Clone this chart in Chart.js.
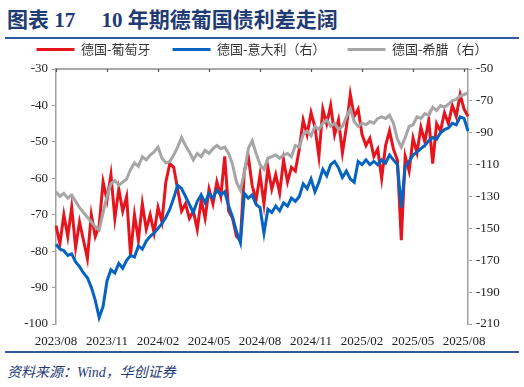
<!DOCTYPE html>
<html>
<head>
<meta charset="utf-8">
<script src="https://cdn.jsdelivr.net/npm/chart.js@4/dist/chart.umd.min.js"></script>
<style>
    html, body { margin: 0; padding: 0; background: #fff; }
    .page { position: relative; width: 524px; height: 387px; overflow: hidden; }
    .title {
        position: absolute; left: 7px; top: 3px;
        font: bold 21px "Liberation Serif", "Noto Sans CJK SC", serif;
        color: #1f3b73; white-space: pre;
    }
    .rule { position: absolute; left: 5px; width: 514px; height: 2px; background: #2f5b9c; }
    .source {
        position: absolute; left: 7px; top: 361px;
        font: italic 14px "Liberation Serif", "Noto Sans CJK SC", serif;
        color: #1f3b73;
    }
    .chart-wrap { position: absolute; left: 0; top: 21px; width: 524px; height: 331px; }
</style>
</head>
<body>
<div class="page">
    <div class="title">图表 17     10 年期德葡国债利差走阔</div>
    <div class="rule" style="top:37px"></div>
    <div class="chart-wrap"><canvas id="spread-chart"></canvas></div>
    <div class="rule" style="top:351px"></div>
    <div class="source">资料来源：Wind，华创证券</div>
</div>

<script>
/* ===== DATA (weekly) ===== */

// x labels shown every 13 weeks
const tickLabels = ['2023/08', '2023/11', '2024/02', '2024/05', '2024/08', '2024/11', '2025/02', '2025/05', '2025/08'];
const weeksPerTick = 13;

// 德国-葡萄牙 (left axis, bp)
const dePt = [
    -73, -78, -70, -76, -68, -79, -72, -77, -82, -70,
    -76, -73, -61, -66, -59, -71, -63, -69, -65, -81,
    -70, -77, -67, -74, -70, -75, -68, -72, -61, -56,
    -57, -63, -69, -67, -71, -69, -74, -66, -71, -63,
    -67, -61, -65, -54, -69, -71, -76, -77, -58, -54,
    -62, -66, -59, -67, -57, -63, -59, -64, -55, -61,
    -57, -58, -52, -44, -48, -42, -46, -54, -41, -45,
    -40, -48, -44, -53, -46, -37, -43, -41, -48, -51,
    -49, -54, -52, -60, -51, -47, -52, -55, -77, -54,
    -58, -49, -53, -46, -50, -44, -56, -45, -47, -42,
    -45, -40, -43, -37, -41, -43
];

// 德国-意大利 (right axis, bp)
const deIt = [
    -160, -163, -164, -167, -166, -171, -174, -178, -181, -187,
    -195, -206, -199, -183, -176, -178, -172, -175, -170, -167,
    -168, -161, -163, -158, -155, -153, -150, -147, -143, -138,
    -131, -123, -125, -130, -135, -140, -133, -129, -134, -128,
    -131, -126, -129, -127, -136, -143, -152, -159, -128, -131,
    -129, -135, -137, -153, -138, -140, -136, -139, -134, -136,
    -131, -133, -130, -122, -125, -119, -127, -121, -113, -117,
    -110, -108, -112, -118, -114, -119, -121, -108, -110, -107,
    -110, -108, -110, -107, -109, -104, -107, -110, -137, -111,
    -108, -104, -102, -100, -98, -95, -93, -94, -90, -88,
    -87, -84, -85, -80, -81, -89
];

// 德国-希腊 (right axis, bp)
const deGr = [
    -127, -130, -128, -131, -129, -133, -137, -140, -143, -146,
    -149, -151, -140, -130, -122, -120, -123, -121, -119, -113,
    -109, -111, -105, -107, -104, -102, -99, -106, -109, -108,
    -104, -99, -93, -98, -102, -107, -103, -105, -101, -103,
    -100, -98, -100, -99, -103, -110, -121, -126, -115, -100,
    -95, -103, -110, -113, -106, -105, -104, -106, -104, -103,
    -105, -98, -99, -91, -89, -92, -86, -88, -84, -82,
    -86, -84, -88, -86, -80, -75, -83, -86, -84, -85,
    -83, -84, -81, -80, -81, -79, -84, -94, -99, -93,
    -86, -85, -80, -81, -78, -79, -74, -76, -73, -74,
    -72, -70, -69, -67, -66, -65
];

// axis ranges
const leftMin = -100, leftMax = -30, leftStep = 10;
const rightMin = -210, rightMax = -50, rightStep = 20;

/* ===== CHART ===== */

const labels = dePt.map((_, i) => (i % weeksPerTick === 0 ? tickLabels[i / weeksPerTick] : ''));

const RED = '#e6141d';
const BLUE = '#0563c1';
const GRAY = '#a6a6a6';
const AXIS_GRAY = '#a0a0a0';
const tickFont = { family: '"Liberation Serif", serif', size: 13 };

// top frame line with short inward ticks at the label positions
const topFrame = {
    id: 'topFrame',
    afterDatasetsDraw(chart) {
        const { ctx, chartArea, scales } = chart;
        ctx.save();
        ctx.strokeStyle = '#555';
        ctx.lineWidth = 1.2;
        ctx.beginPath();
        ctx.moveTo(chartArea.left, chartArea.top);
        ctx.lineTo(chartArea.right, chartArea.top);
        labels.forEach((l, i) => {
            if (!l) return;
            const x = Math.round(scales.x.getPixelForValue(i)) + 0.5;
            ctx.moveTo(x, chartArea.top);
            ctx.lineTo(x, chartArea.top + 3);
        });
        ctx.stroke();
        ctx.restore();
    }
};

const line = (label, data, color, axis, order) => ({
    label, data, yAxisID: axis, order,
    borderColor: color, backgroundColor: color,
    borderWidth: 3, pointRadius: 0, tension: 0
});

new Chart(document.getElementById('spread-chart'), {
    type: 'line',
    data: {
        labels,
        datasets: [
            line('德国-葡萄牙', dePt, RED, 'y', 3),
            line('德国-意大利（右）', deIt, BLUE, 'y2', 2),
            line('德国-希腊（右）', deGr, GRAY, 'y2', 1)
        ]
    },
    options: {
        responsive: true,
        maintainAspectRatio: false,
        animation: false,
        layout: { padding: 0 },
        plugins: {
            tooltip: { enabled: false },
            legend: {
                position: 'top',
                labels: {
                    boxWidth: 38, boxHeight: 3, padding: 22,
                    color: '#333',
                    font: { family: '"Noto Sans CJK SC", sans-serif', size: 13 },
                    sort: (a, b) => a.datasetIndex - b.datasetIndex,
                    generateLabels(chart) {
                        return Chart.defaults.plugins.legend.labels.generateLabels(chart)
                            .map(item => ({ ...item, lineWidth: 0 }));
                    }
                }
            }
        },
        scales: {
            x: {
                position: 'bottom',
                afterFit: s => { s.height = 28; },
                grid: { display: false },
                border: { display: false },
                ticks: {
                    autoSkip: false, maxRotation: 0, padding: 2,
                    color: '#222', font: tickFont,
                    callback: (v, i) => labels[i] || null
                }
            },
            xTop: {
                type: 'category',
                position: 'top',
                afterFit: s => { s.height = 3; },
                grid: { display: false },
                border: { display: false },
                ticks: { display: false }
            },
            y: {
                position: 'left',
                min: leftMin, max: leftMax,
                afterFit: s => { s.width = 56; },
                grid: { drawOnChartArea: false, color: AXIS_GRAY, tickLength: 4 },
                border: { color: AXIS_GRAY, width: 1.5 },
                ticks: { stepSize: leftStep, padding: 4, color: '#222', font: tickFont }
            },
            y2: {
                position: 'right',
                min: rightMin, max: rightMax,
                afterFit: s => { s.width = 56; },
                grid: { drawOnChartArea: false, color: AXIS_GRAY, tickLength: 4 },
                border: { color: AXIS_GRAY, width: 1.5 },
                ticks: { stepSize: rightStep, padding: 4, color: '#222', font: tickFont }
            }
        }
    },
    plugins: [topFrame]
});
</script>
</body>
</html>
